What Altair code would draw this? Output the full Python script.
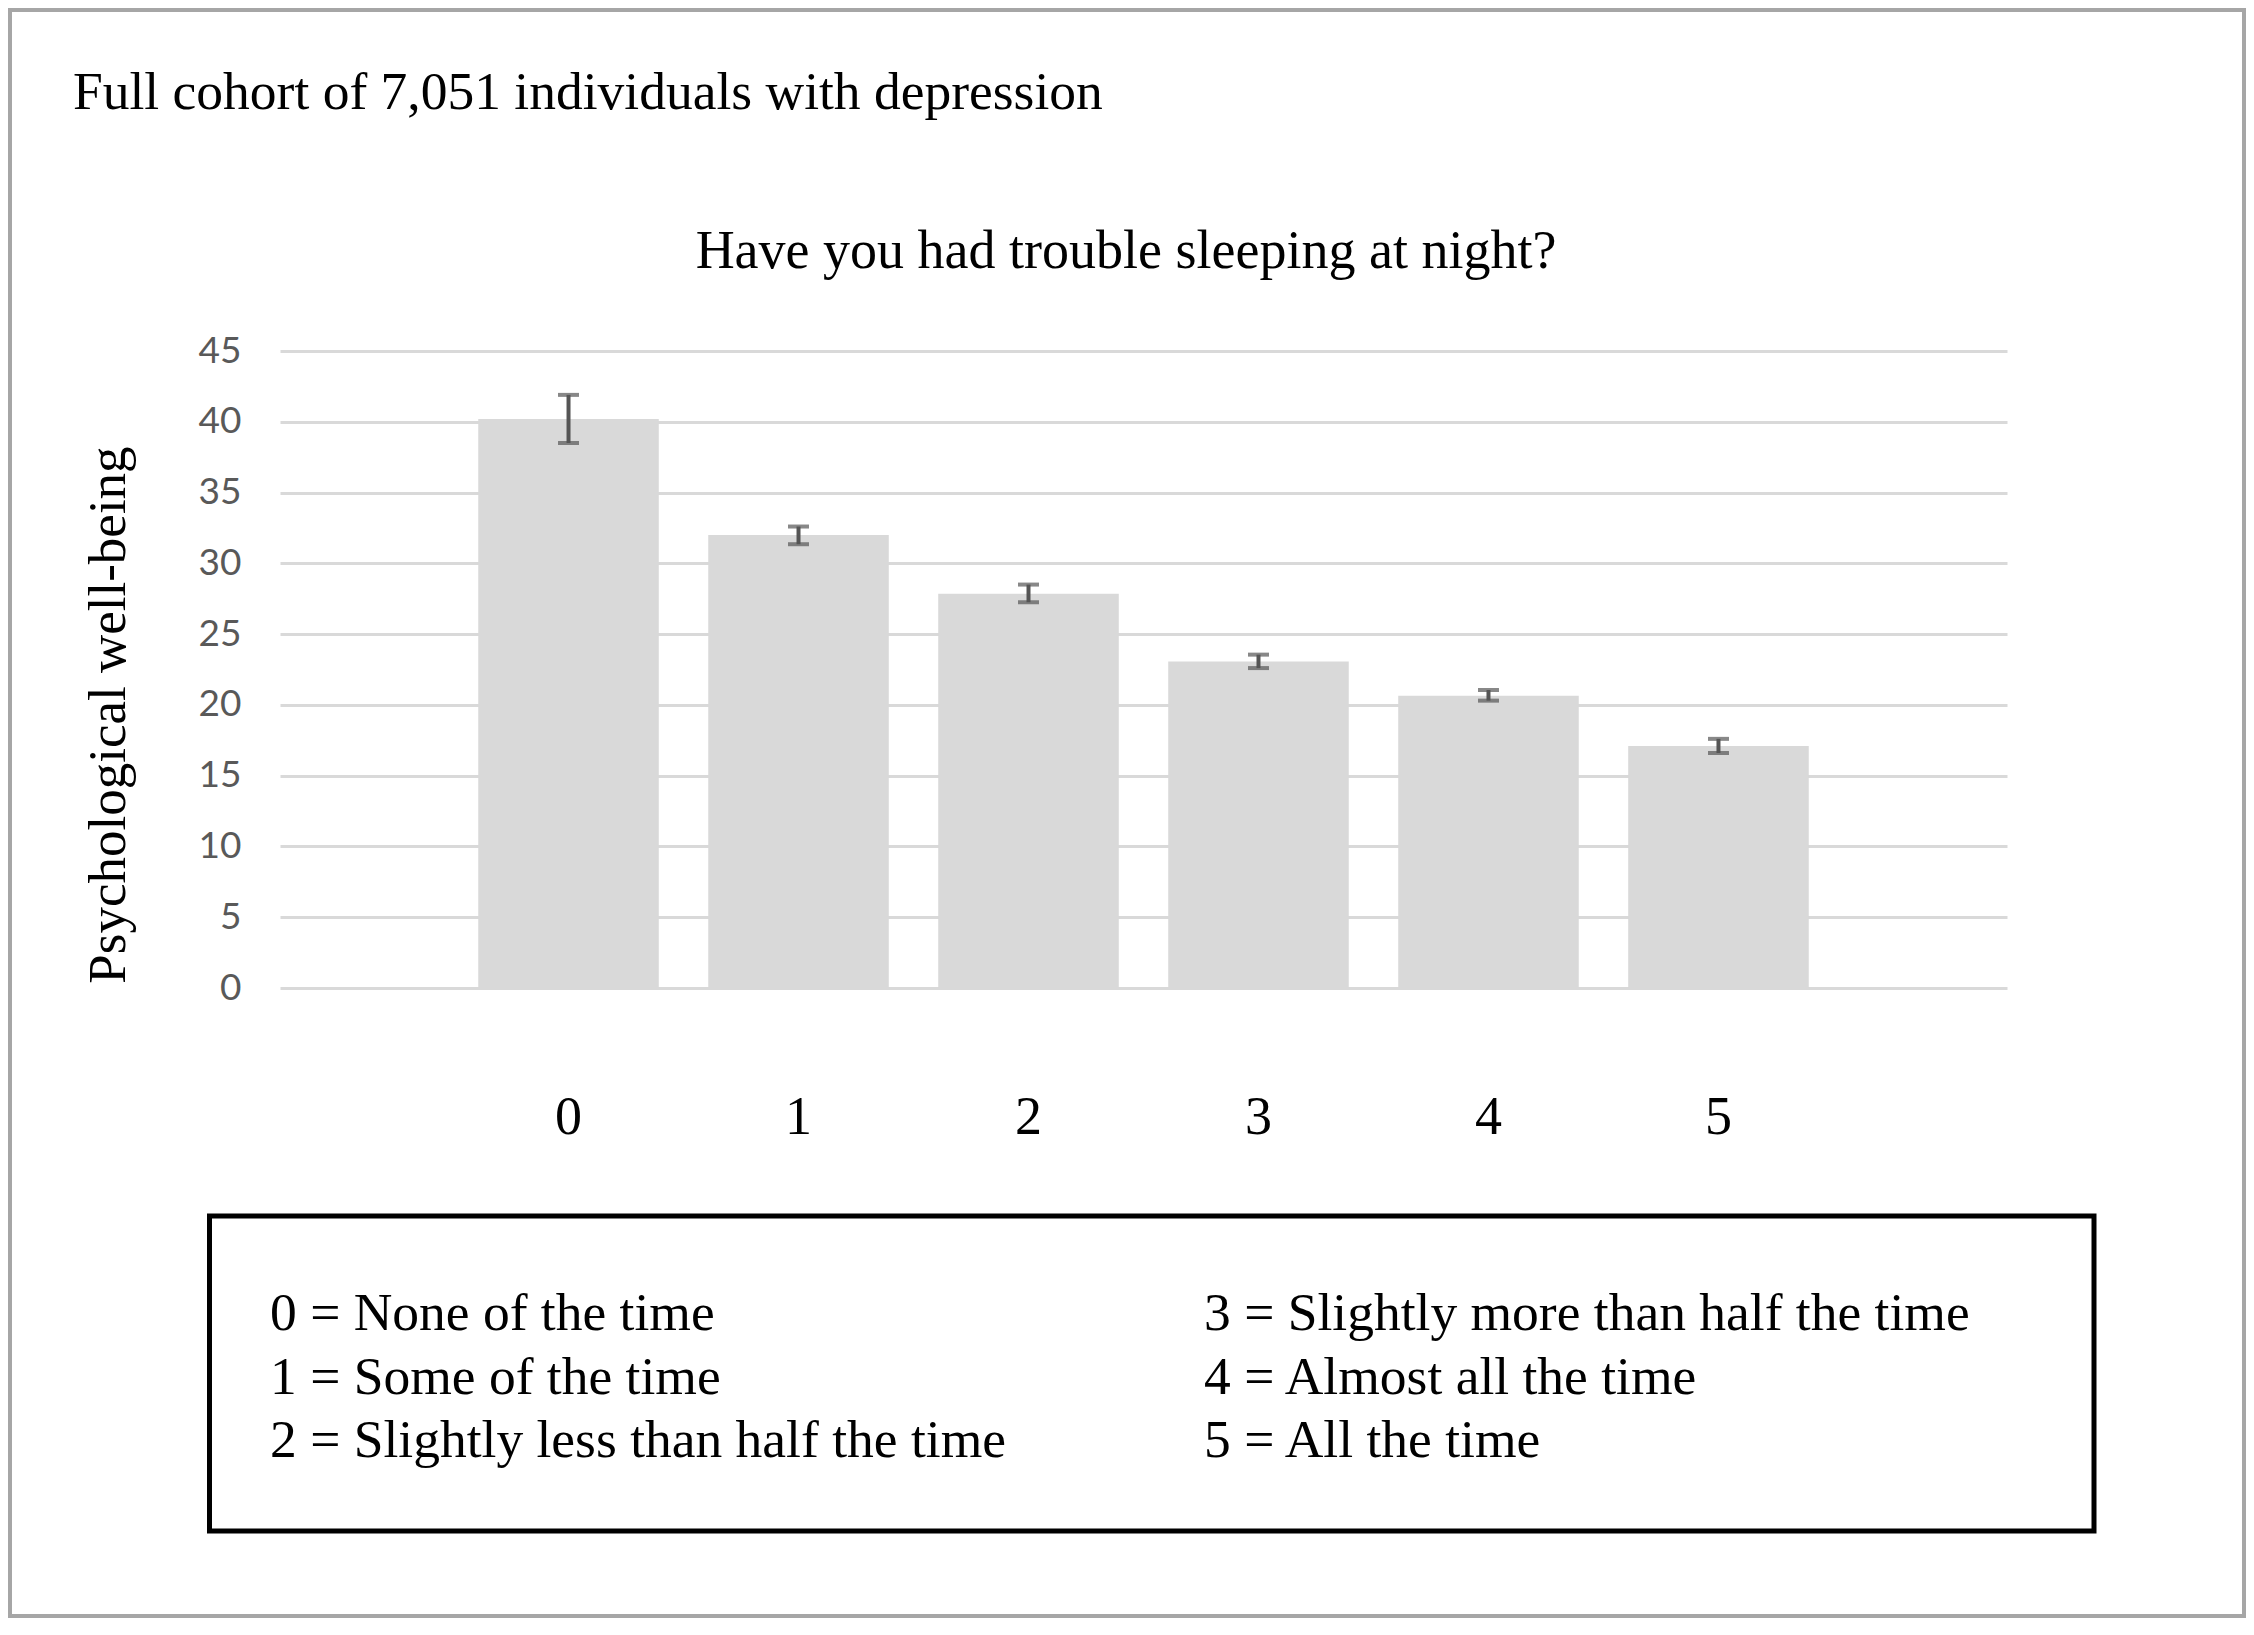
import altair as alt
import pandas as pd

# ---- data ----
categories = ["0", "1", "2", "3", "4", "5"]
means = [40.2, 32.0, 27.85, 23.07, 20.65, 17.1]
err_low = [38.5, 31.35, 27.25, 22.6, 20.3, 16.6]
err_high = [41.9, 32.6, 28.5, 23.55, 21.05, 17.6]
y_ticks = [0, 5, 10, 15, 20, 25, 30, 35, 40, 45]

main_title = "Full cohort of 7,051 individuals with depression"
chart_title = "Have you had trouble sleeping at night?"
y_title = "Psychological well-being"
legend_left = ["0 = None of the time", "1 = Some of the time", "2 = Slightly less than half the time"]
legend_right = ["3 = Slightly more than half the time", "4 = Almost all the time", "5 = All the time"]

df = pd.DataFrame({"cat": categories, "mean": means, "lo": err_low, "hi": err_high})

SERIF = "Liberation Serif"
one = alt.Data(values=[{}])

x_enc = alt.X(
    "cat:N",
    sort=categories,
    scale=alt.Scale(paddingInner=0.215, paddingOuter=0.862),
    axis=alt.Axis(
        title=None, labelAngle=0, labelFont=SERIF, labelFontSize=54, labelColor="black",
        ticks=False, tickSize=0, domain=False, labelPadding=145, labelBaseline="alphabetic",
    ),
)
y_scale = alt.Scale(domain=[0, 45], nice=False)

bars = alt.Chart(df).mark_bar(color="#d9d9d9").encode(
    x=x_enc,
    y=alt.Y(
        "mean:Q",
        scale=y_scale,
        axis=alt.Axis(
            title=None, values=y_ticks, grid=True, gridColor="#d9d9d9", gridWidth=3,
            ticks=False, tickSize=0, domain=False, labelFont="Lato", labelFontSize=37,
            labelColor="#595959", labelPadding=39,
        ),
    ),
)

ERR = "#555555"
rules = alt.Chart(df).mark_rule(color=ERR, strokeWidth=4).encode(
    x=alt.X("cat:N", sort=categories), y=alt.Y("lo:Q", scale=y_scale), y2="hi:Q"
)
caps_lo = alt.Chart(df).mark_tick(color=ERR, orient="horizontal", size=21, thickness=4).encode(
    x=alt.X("cat:N", sort=categories), y=alt.Y("lo:Q", scale=y_scale)
)
caps_hi = alt.Chart(df).mark_tick(color=ERR, orient="horizontal", size=21, thickness=4).encode(
    x=alt.X("cat:N", sort=categories), y=alt.Y("hi:Q", scale=y_scale)
)

# outer frame and legend box
frame = alt.Chart(one).mark_rect(fill=None, stroke="#a6a6a6", strokeWidth=4).encode(
    x=alt.value(-270), x2=alt.value(1964), y=alt.value(-341), y2=alt.value(1265)
)
legend_box = alt.Chart(one).mark_rect(fill=None, stroke="black", strokeWidth=5).encode(
    x=alt.value(-70.5), x2=alt.value(1814), y=alt.value(865), y2=alt.value(1180)
)

t_main = alt.Chart(one).mark_text(
    text=main_title, font=SERIF, fontSize=53.5, color="black", align="left", baseline="alphabetic"
).encode(x=alt.value(-207), y=alt.value(-242))
t_chart = alt.Chart(one).mark_text(
    text=chart_title, font=SERIF, fontSize=54, color="black", align="center", baseline="alphabetic"
).encode(x=alt.value(846), y=alt.value(-83))
t_y = alt.Chart(one).mark_text(
    text=y_title, font=SERIF, fontSize=53, color="black", align="center", baseline="alphabetic", angle=270
).encode(x=alt.value(-155), y=alt.value(364))

leg_l = alt.Chart(one).mark_text(
    text=legend_left, font=SERIF, fontSize=53.5, color="black", align="left", baseline="alphabetic",
    lineHeight=63.5,
).encode(x=alt.value(-10), y=alt.value(979))
leg_r = alt.Chart(one).mark_text(
    text=legend_right, font=SERIF, fontSize=53.5, color="black", align="left", baseline="alphabetic",
    lineHeight=63.5,
).encode(x=alt.value(924), y=alt.value(979))

chart = alt.layer(
    bars, rules, caps_lo, caps_hi, frame, legend_box, t_main, t_chart, t_y, leg_l, leg_r
).properties(
    width=1727, height=637,
    autosize=alt.AutoSizeParams(type="none"),
    padding={"left": 272, "top": 343, "right": 239, "bottom": 630},
    background="white",
).configure_view(stroke=None)

chart.save("out.html", embed_options={"renderer": "svg", "actions": False})
